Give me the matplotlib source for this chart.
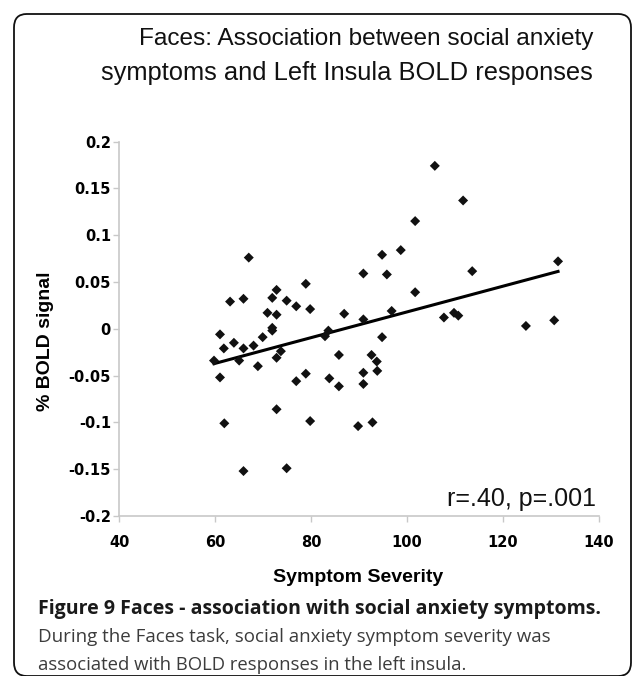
import numpy as np
import matplotlib.pyplot as plt
import matplotlib
from matplotlib.patches import FancyBboxPatch

matplotlib.rcParams['font.family'] = ['Liberation Sans', 'DejaVu Sans']

# 症状严重度 (x) 与 左脑岛 BOLD 信号 (y)
symptom_severity = [105.8, 111.7, 101.7, 94.8, 98.7, 90.9, 95.8, 113.6, 131.5, 101.7,
                    78.9, 72.8, 71.9, 74.9, 76.9, 79.8, 70.9, 72.8, 86.9, 90.9,
                    96.8, 107.7, 109.8, 110.7, 124.8, 130.7, 71.9, 71.9, 69.9, 83.6,
                    82.9, 94.8, 73.7, 72.8, 68.9, 85.8, 92.6, 93.7, 93.8, 90.9,
                    90.9, 78.9, 76.9, 83.8, 85.8, 72.8, 79.8, 89.8, 92.8, 67.0,
                    63.1, 65.9, 61.0, 61.8, 63.9, 65.9, 68.0, 59.75, 65.0, 61.0,
                    61.9, 65.9, 74.9]
bold_signal = [0.174, 0.137, 0.115, 0.079, 0.084, 0.059, 0.058, 0.0615, 0.072, 0.039,
               0.048, 0.0415, 0.033, 0.030, 0.024, 0.021, 0.017, 0.015, 0.016, 0.010,
               0.019, 0.012, 0.017, 0.014, 0.003, 0.009, 0.001, -0.002, -0.009, -0.002,
               -0.008, -0.009, -0.024, -0.031, -0.040, -0.028, -0.028, -0.035, -0.045, -0.047,
               -0.059, -0.048, -0.056, -0.053, -0.0615, -0.086, -0.0986, -0.104, -0.100, 0.076,
               0.029, 0.032, -0.006, -0.021, -0.015, -0.021, -0.018, -0.034, -0.034, -0.052,
               -0.101, -0.152, -0.149]

x_ticks = [40, 60, 80, 100, 120, 140]
y_ticks = [-0.2, -0.15, -0.1, -0.05, 0, 0.05, 0.1, 0.15, 0.2]
y_tick_labels = ['-0.2', '-0.15', '-0.1', '-0.05', '0', '0.05', '0.1', '0.15', '0.2']

W, H = 634, 676
fig = plt.figure(figsize=(W / 100, H / 100), dpi=100)

# 外框（圆角）
frame = FancyBboxPatch((14 / W, 0.0), (631 - 14) / W, 1 - 14 / H - 0.0,
                       boxstyle='round,pad=0,rounding_size=0.02',
                       transform=fig.transFigure, fill=False,
                       edgecolor='#111111', linewidth=1.3)
fig.patches.append(frame)

# 标题
fig.text(366 / W, 1 - 38.5 / H, 'Faces: Association between social anxiety',
         ha='center', va='center', fontsize=17.6, color='#111111')
fig.text(347 / W, 1 - 73 / H, 'symptoms and Left Insula BOLD responses',
         ha='center', va='center', fontsize=18.4, color='#111111')

ax = fig.add_axes([119.3 / W, 1 - 516 / H, (598.8 - 119.3) / W, (516 - 141.5) / H])

ax.scatter(symptom_severity, bold_signal, marker='D', s=26, color='#111111',
           edgecolors='none', zorder=3)

# 线性拟合
k, b = np.polyfit(symptom_severity, bold_signal, 1)
xs = np.array([min(symptom_severity), max(symptom_severity)])
ax.plot(xs, k * xs + b, color='black', linewidth=2.2, zorder=2)

ax.set_xlim(40, 140)
ax.set_ylim(-0.2, 0.2)
ax.set_xticks(x_ticks)
ax.set_xticklabels([str(t) for t in x_ticks], family='DejaVu Sans', fontweight='bold', fontsize=10.5)
ax.set_yticks(y_ticks)
ax.set_yticklabels(y_tick_labels, family='DejaVu Sans', fontweight='bold', fontsize=10.5)

for side in ['top', 'right']:
    ax.spines[side].set_visible(False)
for side in ['left', 'bottom']:
    ax.spines[side].set_color('#c8c8c8')
    ax.spines[side].set_linewidth(1.2)
ax.tick_params(axis='both', color='#c8c8c8', length=4, width=1.0)
ax.tick_params(axis='y', pad=2)
ax.tick_params(axis='x', pad=10)

ax.text(596 / W, 1 - 499 / H, 'r=.40, p=.001', transform=fig.transFigure,
        ha='right', va='center', fontsize=18, color='#111111')

# 坐标轴标题
fig.text(45 / W, 1 - 341 / H, '% BOLD signal', rotation=90, ha='center', va='center',
         fontsize=14, fontweight='bold')
fig.text(358 / W, 1 - 577 / H, 'Symptom Severity', ha='center', va='center',
         fontsize=14, fontweight='bold')

# 图注
fig.text(38.5 / W, 1 - 608.6 / H, 'Figure 9 Faces - association with social anxiety symptoms.',
         ha='left', va='center', fontsize=14, fontweight='bold', family='Open Sans',
         color='#1a1a1a')
fig.text(38.5 / W, 1 - 637 / H, 'During the Faces task, social anxiety symptom severity was',
         ha='left', va='center', fontsize=13.5, family='Open Sans', color='#3c3c3c')
fig.text(38.5 / W, 1 - 664.5 / H, 'associated with BOLD responses in the left insula.',
         ha='left', va='center', fontsize=13.3, family='Open Sans', color='#3c3c3c')

plt.savefig('out.png', dpi=100)
